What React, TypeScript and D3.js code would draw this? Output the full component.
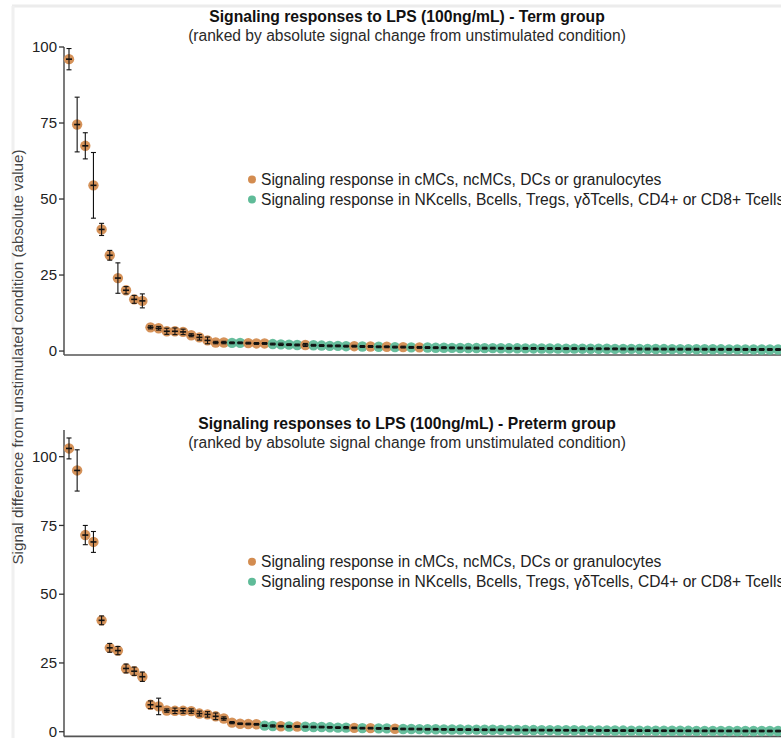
import React from "react";
import * as d3 from "d3";

const W = 781;
const H = 738;

// Term group (top panel)
const termValues = [
  96, 74.5, 67.5, 54.5, 40, 31.5, 24, 20, 17, 16.5,
  7.8, 7.5, 6.5, 6.5, 6.3, 5.2, 4.5, 3.5, 2.8, 2.8,
  2.7, 2.7, 2.6, 2.5, 2.5, 2.3, 2.2, 2.1, 2.0, 2.0,
  1.9, 1.8, 1.7, 1.7, 1.6, 1.6, 1.5, 1.5, 1.4, 1.4,
  1.3, 1.3, 1.2, 1.2, 1.15, 1.1, 1.1, 1.05, 1.0, 1.0,
  0.98, 0.95, 0.95, 0.92, 0.9, 0.9, 0.88, 0.86, 0.85, 0.84,
  0.82, 0.8, 0.8, 0.78, 0.77, 0.75, 0.74, 0.72, 0.7, 0.7,
  0.68, 0.67, 0.66, 0.65, 0.64, 0.62, 0.61, 0.6, 0.6, 0.58,
  0.57, 0.56, 0.55, 0.54, 0.53, 0.52, 0.51, 0.5,
];
const termErrors = [
  3.5, 9, 4.3, 10.8, 2, 1.6, 5, 1.2, 1.3, 2.3,
  0.5, 0.6, 1, 1.1, 0.9, 0.5, 0.9, 1.1, 0.4, 0.4,
  0.3, 0.3, 0.3, 0.3, 0.3, 0.3, 0.4, 0.3, 0.3, 0.5,
  0.3, 0.3, 0.3, 0.3, 0.3, 0.3, 0.3, 0.3, 0.3, 0.3,
  0.3, 0.3, 0.3, 0.3, 0.3, 0.3, 0.3, 0.3, 0.3, 0.3,
  0.3, 0.3, 0.3, 0.3, 0.3, 0.3, 0.3, 0.3, 0.3, 0.3,
  0.3, 0.3, 0.3, 0.3, 0.3, 0.3, 0.3, 0.3, 0.3, 0.3,
  0.3, 0.3, 0.3, 0.3, 0.3, 0.3, 0.3, 0.3, 0.3, 0.3,
  0.3, 0.3, 0.3, 0.3, 0.3, 0.3, 0.3, 0.3,
];
// "M" = myeloid (cMCs, ncMCs, DCs, granulocytes), "L" = lymphoid
const termGroups =
  "MMMMMMMMMMMMMMMMMMMM" +
  "LLMMMLLLLMLLLLLMLMLM" +
  "LMLMLLLLLLLLLLLLLLLL" +
  "LLLLLLLLLLLLLLLLLLLL" +
  "LLLLLLLL";

// Preterm group (bottom panel)
const pretermValues = [
  103, 95, 71.5, 69, 40.5, 30.5, 29.5, 23, 22, 20,
  9.8, 9.2, 7.7, 7.6, 7.6, 7.5, 6.6, 6.3, 5.6, 4.8,
  3.3, 2.9, 2.8, 2.7, 2.2, 2.1, 2.0, 1.9, 1.9, 1.8,
  1.7, 1.7, 1.6, 1.5, 1.5, 1.4, 1.3, 1.3, 1.2, 1.2,
  1.1, 1.0, 1.0, 0.95, 0.9, 0.9, 0.85, 0.8, 0.8, 0.78,
  0.75, 0.72, 0.7, 0.68, 0.66, 0.64, 0.62, 0.6, 0.58, 0.56,
  0.55, 0.53, 0.52, 0.5, 0.48, 0.47, 0.45, 0.44, 0.42, 0.41,
  0.4, 0.39, 0.38, 0.36, 0.35, 0.34, 0.33, 0.32, 0.31, 0.3,
  0.29, 0.28, 0.28, 0.27, 0.26, 0.26, 0.25, 0.25,
];
const pretermErrors = [
  3.8, 7.5, 3.5, 3.8, 1.6, 1.6, 1.5, 1.6, 1.5, 1.7,
  1.4, 3, 0.6, 1, 0.9, 0.8, 0.9, 1, 1.2, 0.6,
  0.4, 0.3, 0.3, 0.3, 0.3, 0.4, 0.3, 0.4, 0.3, 0.3,
  0.3, 0.3, 0.3, 0.3, 0.4, 0.3, 0.3, 0.3, 0.3, 0.3,
  0.3, 0.3, 0.3, 0.3, 0.3, 0.3, 0.3, 0.3, 0.3, 0.3,
  0.3, 0.3, 0.3, 0.3, 0.3, 0.3, 0.3, 0.3, 0.3, 0.3,
  0.3, 0.3, 0.3, 0.3, 0.3, 0.3, 0.3, 0.3, 0.3, 0.3,
  0.3, 0.3, 0.3, 0.3, 0.3, 0.3, 0.3, 0.3, 0.3, 0.3,
  0.3, 0.3, 0.3, 0.3, 0.3, 0.3, 0.3, 0.3,
];
const pretermGroups =
  "MMMMMMMMMMMMMMMMMMMM" +
  "MMMMLLMLMLLLLLLMLMLL" +
  "MLLLLLLLLLLLLLLLLLLL" +
  "LLLLLLLLLLLLLLLLLLLL" +
  "LLLLLLLL";

const yTicks = [0, 25, 50, 75, 100];
const legendLabels = [
  "Signaling response in cMCs, ncMCs, DCs or granulocytes",
  "Signaling response in NKcells, Bcells, Tregs, \u03b3\u03b4Tcells, CD4+ or CD8+ Tcells",
];
const titles = [
  "Signaling responses to LPS (100ng/mL) - Term group",
  "Signaling responses to LPS (100ng/mL) - Preterm group",
];
const subtitle = "(ranked by absolute signal change from unstimulated condition)";
const yLabel = "Signal difference from unstimulated condition (absolute value)";

const ORANGE = "#d38c50";
const TEAL = "#5fbb98";
const FONT = "'Liberation Sans', Arial, sans-serif";

type PanelProps = {
  values: number[];
  errors: number[];
  groups: string;
  yDomain: [number, number];
  yRange: [number, number];
  title: string;
  titleY: number;
  legendY: number;
};

function Panel({ values, errors, groups, yDomain, yRange, title, titleY, legendY }: PanelProps) {
  const axisX = 64;
  const x = d3.scaleLinear().domain([0, 87]).range([69, 778]);
  const y = d3.scaleLinear().domain(yDomain).range(yRange);
  const data = values.map((v, i) => ({ i, v, e: errors[i], g: groups[i] }));
  return (
    <g>
      <text x={407} y={titleY} textAnchor="middle" fontFamily={FONT} fontWeight="bold" fontSize={15.7} fill="#111">
        {title}
      </text>
      <text x={407} y={titleY + 19} textAnchor="middle" fontFamily={FONT} fontSize={15.6} fill="#2a2a2a">
        {subtitle}
      </text>
      {/* axes */}
      <line x1={axisX} x2={axisX} y1={y(yDomain[1])} y2={y(yDomain[0])} stroke="#333" strokeWidth={1.3} />
      <line x1={axisX} x2={W} y1={y(yDomain[0])} y2={y(yDomain[0])} stroke="#555" strokeWidth={1.6} />
      {yTicks.filter((t) => t <= yDomain[1]).map((t) => (
        <g key={t}>
          <line x1={axisX - 5} x2={axisX} y1={y(t)} y2={y(t)} stroke="#333" strokeWidth={1.3} />
          <text x={axisX - 7} y={y(t)} dy="0.35em" textAnchor="end" fontFamily={FONT} fontSize={15} fill="#222">
            {t}
          </text>
        </g>
      ))}
      {/* points */}
      {data.map((d) => (
        <circle key={"c" + d.i} cx={x(d.i)} cy={y(d.v)} r={5.2} fill={d.g === "M" ? ORANGE : TEAL} opacity={0.95} />
      ))}
      {/* error bars */}
      {data.map((d) => {
        const cx = x(d.i);
        const top = y(d.v + d.e);
        const bot = y(Math.max(d.v - d.e, yDomain[0]));
        return (
          <g key={"e" + d.i} stroke="#111">
            <line x1={cx} x2={cx} y1={top} y2={bot} strokeWidth={1.1} />
            <line x1={cx - 2.5} x2={cx + 2.5} y1={top} y2={top} strokeWidth={1.1} />
            <line x1={cx - 2.5} x2={cx + 2.5} y1={bot} y2={bot} strokeWidth={1.1} />
            <line x1={cx - 3} x2={cx + 3} y1={y(d.v)} y2={y(d.v)} strokeWidth={1.6} />
          </g>
        );
      })}
      {/* legend */}
      {legendLabels.map((lab, k) => (
        <g key={lab}>
          <circle cx={252} cy={legendY + k * 20} r={4} fill={k === 0 ? ORANGE : TEAL} />
          <text x={261} y={legendY + k * 20} dy="0.35em" fontFamily={FONT} fontSize={15.6} fill="#222">
            {lab}
          </text>
        </g>
      ))}
    </g>
  );
}

export default function App() {
  return (
    <svg
      width={W}
      height={H}
      viewBox={`0 0 ${W} ${H}`}
      style={{ position: "absolute", left: 0, top: 0, background: "#fff" }}
    >
      <rect x={0} y={0} width={W} height={H} fill="#fff" />
      <line x1={12} x2={W} y1={6} y2={6} stroke="#ececec" strokeWidth={3} />
      <line x1={13} x2={13} y1={6} y2={H} stroke="#f0f0f0" strokeWidth={3} />
      <Panel
        values={termValues}
        errors={termErrors}
        groups={termGroups}
        yDomain={[-1.3, 100]}
        yRange={[355, 47]}
        title={titles[0]}
        titleY={22}
        legendY={179.5}
      />
      <Panel
        values={pretermValues}
        errors={pretermErrors}
        groups={pretermGroups}
        yDomain={[-1.7, 109.7]}
        yRange={[736.4, 430]}
        title={titles[1]}
        titleY={429}
        legendY={561.7}
      />
      <text
        transform="translate(23,357) rotate(-90)"
        textAnchor="middle"
        fontFamily={FONT}
        fontSize={15.2}
        fill="#444"
      >
        {yLabel}
      </text>
    </svg>
  );
}
